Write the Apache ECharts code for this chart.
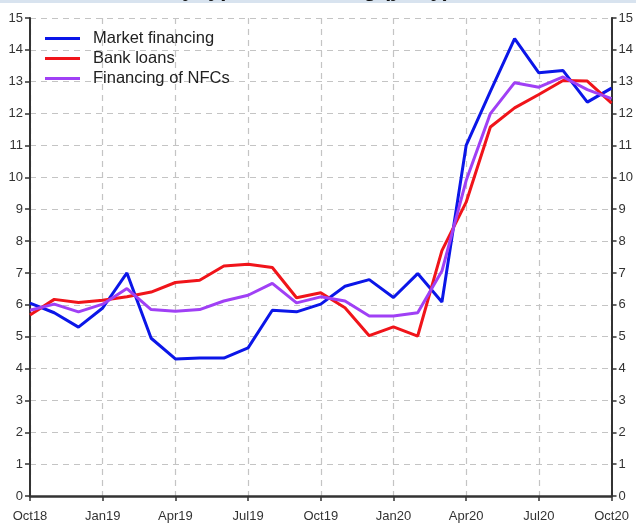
<!DOCTYPE html>
<html><head><meta charset="utf-8">
<script src="https://cdn.jsdelivr.net/npm/echarts@6/dist/echarts.min.js"></script>
<style>html,body{margin:0;padding:0;background:#fff}#c{width:636px;height:528px}</style>
</head><body><div id="c"></div>
<script>
var months = ['Oct18','Nov18','Dec18','Jan19','Feb19','Mar19','Apr19','May19','Jun19','Jul19','Aug19','Sep19',
  'Oct19','Nov19','Dec19','Jan20','Feb20','Mar20','Apr20','May20','Jun20','Jul20','Aug20','Sep20','Oct20'];
var marketFinancing = [6.05,5.75,5.3,5.9,7.0,4.95,4.3,4.33,4.33,4.65,5.83,5.78,6.02,6.58,6.79,6.23,6.98,6.09,11.0,12.7,14.35,13.28,13.35,12.36,12.8];
var bankLoans = [5.68,6.17,6.07,6.14,6.25,6.4,6.7,6.77,7.22,7.27,7.17,6.22,6.38,5.91,5.03,5.31,5.02,7.7,9.22,11.58,12.18,12.6,13.04,13.02,12.33];
var nfcFinancing = [5.83,6.02,5.78,6.02,6.51,5.85,5.8,5.85,6.12,6.3,6.67,6.06,6.25,6.12,5.65,5.65,5.75,7.06,9.9,12.0,12.97,12.83,13.15,12.75,12.47];
var seriesNames = ['Market financing','Bank loans','Financing of NFCs'];
var titleText = 'Growth by type of financing (y-o-y)';

var chart = echarts.init(document.getElementById('c'), null, {renderer:'canvas'});
var axisCol = '#333';
var font = 'Liberation Sans, Arial, sans-serif';
function yAx(pos){
  return {
    type:'value', position:pos, min:0, max:15, interval:1,
    axisLine:{show:true, lineStyle:{color:axisCol, width:2}},
    axisTick:{show:true, inside:false, length:5, lineStyle:{color:axisCol, width:1.5}},
    axisLabel:{color:'#333', fontSize:13, fontFamily:font, margin:7},
    splitLine:{show: pos==='left', lineStyle:{color:'#c4c4c4', type:[6,5], width:1.2}}
  };
}
chart.setOption({
  animation:false,
  backgroundColor:'#fff',
  graphic:[
    {type:'rect', shape:{x:0,y:0,width:636,height:3}, style:{fill:'#d8e3ef'}, z:-1},
    {type:'text', right:186, top:-21, style:{text:titleText, font:'bold 22px '+font, fill:'#111'}}
  ],
  grid:{left:30, right:21, top:18, bottom:32},
  legend:{
    orient:'vertical', left:45, top:30, padding:0, itemWidth:35, itemHeight:3, itemGap:3, icon:'rect',
    textStyle:{fontSize:16.5, fontFamily:font, color:'#222', padding:[0,0,0,8]},
    data:seriesNames
  },
  xAxis:{
    type:'category', data:months, boundaryGap:false,
    axisLine:{lineStyle:{color:axisCol, width:2.5}},
    axisTick:{interval:2, length:5, lineStyle:{color:axisCol, width:1.5}},
    axisLabel:{interval:2, color:'#333', fontSize:13, fontFamily:font, margin:14},
    splitLine:{show:true, interval:2, lineStyle:{color:'#c4c4c4', type:[6,5], width:1.2}}
  },
  yAxis:[yAx('left'), yAx('right')],
  series:[
    {name:seriesNames[0], type:'line', data:marketFinancing, symbol:'none', lineStyle:{color:'#0b16e8', width:3}, itemStyle:{color:'#0b16e8'}, z:3},
    {name:seriesNames[1], type:'line', data:bankLoans, symbol:'none', lineStyle:{color:'#f0141a', width:3}, itemStyle:{color:'#f0141a'}, z:4},
    {name:seriesNames[2], type:'line', data:nfcFinancing, symbol:'none', lineStyle:{color:'#a040f5', width:3}, itemStyle:{color:'#a040f5'}, z:5}
  ]
});
</script></body></html>
